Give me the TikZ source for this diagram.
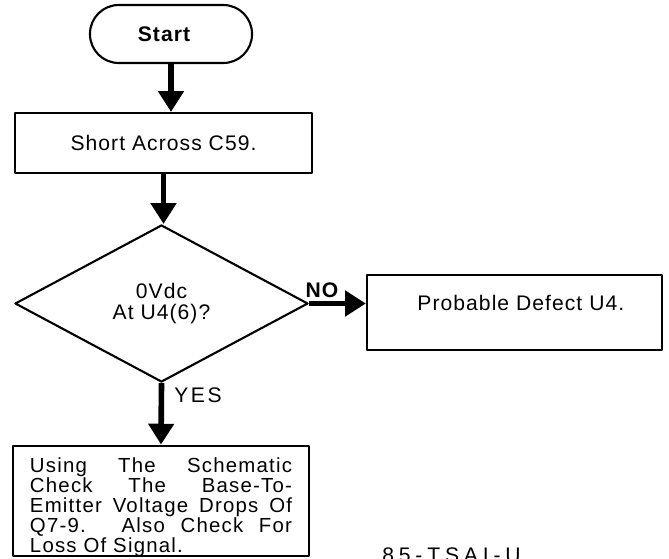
\documentclass[tikz,border=0pt]{standalone}
\usepackage{fontspec}
\setmainfont[LetterSpace=5]{Liberation Sans}
\usetikzlibrary{arrows.meta,positioning,shapes.geometric}

\begin{document}
\begin{tikzpicture}[x=0.025cm,y=-0.025cm,line join=round,
  >={Triangle[width=0.62cm,length=0.52cm]},
  box/.style={draw,line width=1.5pt,inner sep=0pt,font=\fontsize{15}{16}\selectfont},
  flow/.style={->,line width=4pt},
  lbl/.style={font=\fontsize{15}{16}\selectfont}]
 \useasboundingbox (0,0) rectangle (669,558);
 % blocks
 \node[box,rounded corners=0.72cm,minimum width=4.05cm,minimum height=1.45cm,font=\fontsize{15}{16}\selectfont\bfseries] (start) at (171,34) {\hspace*{-10pt}Start};
 \node[box,minimum width=7.425cm,minimum height=1.5cm] (short) at (163.5,143) {Short Across C59.};
 \node[box,diamond,minimum width=7.325cm,minimum height=3.925cm,align=center,font=\fontsize{15}{14.5}\selectfont] (test) at (161.5,303.5) {0Vdc\\At U4(6)?};
 \node[box,minimum width=7.375cm,minimum height=1.875cm] (defect) at (514.5,312.5) {\hspace*{9pt}\raisebox{7pt}[\height][\depth]{Probable Defect U4.}};
 \node[box,minimum width=7.4cm,minimum height=2.7cm,text width=6.55cm,align=justify,font=\fontsize{14.5}{14.2}\selectfont\addfontfeatures{LetterSpace=6}] (check) at (161,501)
  {\rule{0pt}{19pt}Using The Schematic\linebreak Check The Base-To-\linebreak Emitter Voltage Drops Of\linebreak Q7-9. Also Check For\linebreak Loss Of Signal.};
 % connectors
 \draw[flow] (start.south) -- (start.south |- short.north);
 \draw[flow] (short.south) -- (short.south |- test.north);
 \draw[flow] (test.east) -- (test.east -| defect.west);
 \draw[flow] (test.south) -- (check.north);
 \node[lbl,font=\fontsize{15}{16}\selectfont\bfseries] (no) at (322,290) {NO};
 \node[lbl,font=\fontsize{15}{16}\selectfont\addfontfeatures{LetterSpace=12}] (yes) at (198,395) {YES};
 \node[lbl,anchor=north west,inner sep=0pt,font=\fontsize{15}{16}\selectfont\addfontfeatures{LetterSpace=23}] (tag) at (382,547) {85-TSAI-U};
\end{tikzpicture}
\end{document}
